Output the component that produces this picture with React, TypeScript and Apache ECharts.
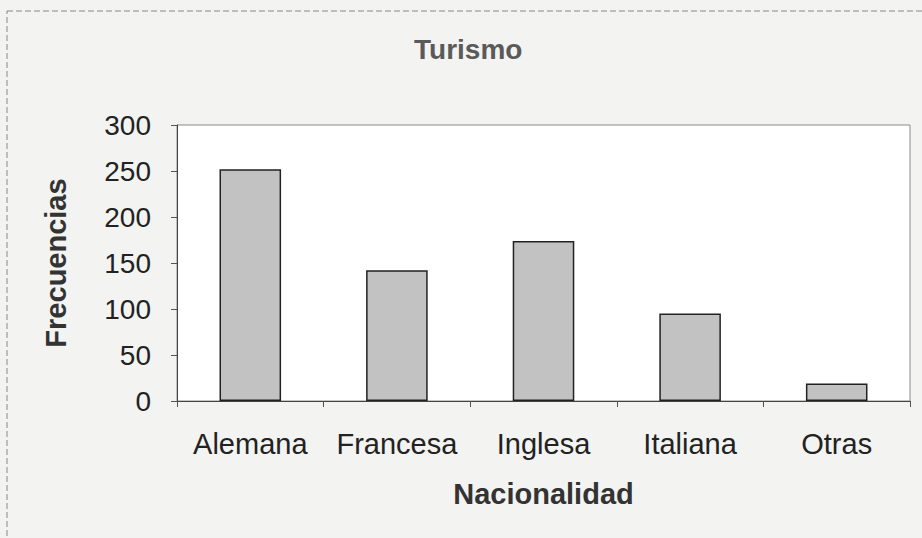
import React, { useEffect, useRef } from "react";
import * as echarts from "echarts";

const categories = ["Alemana", "Francesa", "Inglesa", "Italiana", "Otras"];
const frecuencias = [252, 142, 174, 95, 19];
const yTicks = { min: 0, max: 300, interval: 50 };
const titleText = "Turismo";
const xName = "Nacionalidad";
const yName = "Frecuencias";

export default function App() {
  const ref = useRef<HTMLDivElement>(null);
  useEffect(() => {
    const chart = echarts.init(ref.current!, null, { renderer: "svg" });
    const font = "'Liberation Sans', Arial, sans-serif";
    chart.setOption({
      animation: false,
      backgroundColor: "#f3f3f1",
      textStyle: { fontFamily: font },
      title: {
        text: titleText,
        left: 409,
        top: 30,
        textStyle: { fontSize: 28, fontWeight: "bold", color: "#5a5a5a", fontFamily: font },
      },
      graphic: [
        {
          type: "rect",
          shape: { x: 7, y: 11, width: 940, height: 560 },
          style: { fill: "none", stroke: "#888", lineWidth: 1, lineDash: [6, 3] },
          silent: true,
        },
      ],
      grid: {
        left: 177,
        top: 125,
        right: 12,
        bottom: 137,
        show: true,
        backgroundColor: "#ffffff",
        borderColor: "#8a8a8a",
        borderWidth: 1,
      },
      xAxis: {
        type: "category",
        data: categories,
        boundaryGap: true,
        name: xName,
        nameLocation: "middle",
        nameGap: 78,
        nameTextStyle: { fontSize: 29, fontWeight: "bold", color: "#333", fontFamily: font },
        axisLine: { lineStyle: { color: "#444", width: 1 } },
        axisTick: { show: true, alignWithLabel: false, length: 6, lineStyle: { color: "#555" } },
        axisLabel: { fontSize: 29, color: "#222", margin: 28, fontFamily: font, interval: 0 },
        splitLine: { show: false },
      },
      yAxis: {
        type: "value",
        min: yTicks.min,
        max: yTicks.max,
        interval: yTicks.interval,
        name: yName,
        nameLocation: "middle",
        nameGap: 107,
        nameTextStyle: { fontSize: 29, fontWeight: "bold", color: "#333", fontFamily: font },
        axisLine: { show: true, lineStyle: { color: "#444", width: 1 } },
        axisTick: { show: true, length: 6, lineStyle: { color: "#555" } },
        axisLabel: { fontSize: 28, color: "#222", margin: 26, fontFamily: font },
        splitLine: { show: false },
      },
      series: [
        {
          type: "bar",
          data: frecuencias,
          barWidth: "42%",
          itemStyle: { color: "#c2c2c2", borderColor: "#222", borderWidth: 1.5 },
        },
      ],
    });
    return () => chart.dispose();
  }, []);
  return (
    <div
      ref={ref}
      style={{ position: "fixed", left: 0, top: 0, width: 922, height: 538 }}
    />
  );
}
